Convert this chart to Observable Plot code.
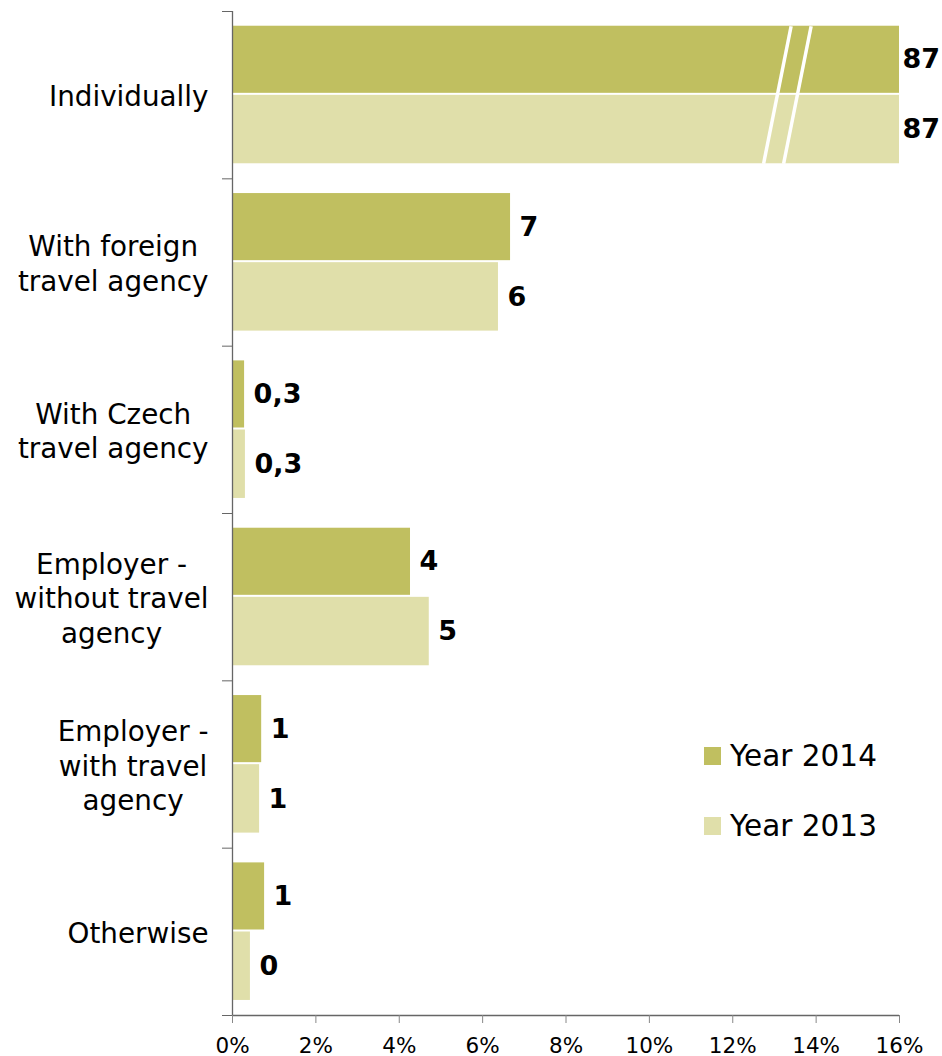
<!DOCTYPE html>
<html>
<head>
<meta charset="utf-8">
<script src="https://cdn.jsdelivr.net/npm/d3@7"></script>
<script src="https://cdn.jsdelivr.net/npm/@observablehq/plot@0.6"></script>
<style>
  html, body { margin: 0; padding: 0; background: #fff; }
  #wrap { position: relative; width: 942px; height: 1056px; font-family: "DejaVu Sans", Verdana, sans-serif; }
  #legend { position: absolute; left: 704px; top: 737px; }
  .li { display: flex; align-items: center; height: 38px; margin-bottom: 32px; font-size: 29.5px; color: #000; }
  .sw { width: 17px; height: 18px; margin-right: 9px; }
</style>
</head>
<body>
<div id="wrap"><div id="legend"></div></div>
<script>
// ---- data ----
const categories = [
  "Individually",
  "With foreign\ntravel agency",
  "With Czech\ntravel agency",
  "Employer -\nwithout travel\nagency",
  "Employer -\nwith travel\nagency",
  "Otherwise"
];
const years = ["Year 2014", "Year 2013"];
const values2014 = [87, 6.67, 0.29, 4.27, 0.70, 0.77];
const values2013 = [87, 6.38, 0.31, 4.72, 0.65, 0.43];
const labels2014 = ["87", "7", "0,3", "4", "1", "1"];
const labels2013 = ["87", "6", "0,3", "5", "1", "0"];
const xTicks = [0, 2, 4, 6, 8, 10, 12, 14, 16];
const colors = ["#c0bf60", "#e0dfaa"];

// ---- layout constants ----
const xMax = 16;
const slot = { "Year 2014": [0.088, 0.489], "Year 2013": [0.501, 0.91] };
const breakX = [13.4, 13.88];   // top x of the two break strokes (axis units)
const breakSlant = 0.66;        // leftward shift over the band
const font = "DejaVu Sans";
const fs = 27.8;

const rows = [];
categories.forEach((c, i) => {
  rows.push({cat: c, i, year: years[0], value: values2014[i], label: labels2014[i]});
  rows.push({cat: c, i, year: years[1], value: values2013[i], label: labels2013[i]});
});
const yc = d => d.i + (slot[d.year][0] + slot[d.year][1]) / 2;

// measure label widths to center lines of each category label block
const ctx = document.createElement("canvas").getContext("2d");
ctx.font = `${fs}px "${font}"`;
const blockW = categories.map(c => d3.max(c.split("\n"), s => ctx.measureText(s).width));

const breakIdx = categories.map((c, i) => i).filter(i => values2014[i] > xMax);
const breaks = breakIdx.flatMap(i => breakX.map(x => ({i, x})));

const labelMarks = categories.map((c, i) =>
  Plot.text([c], {
    frameAnchor: "left", y: () => i + 0.5, text: d => d,
    textAnchor: "middle", dx: -24 - blockW[i] / 2,
    fontSize: fs, lineHeight: 1.25, fill: "#000"
  })
);

const chart = Plot.plot({
  width: 942,
  height: 1056,
  marginLeft: 232,
  marginRight: 43,
  marginTop: 11,
  marginBottom: 41,
  style: { fontFamily: font, background: "transparent", overflow: "visible" },
  x: { domain: [0, xMax], clamp: true },
  y: { domain: [0, categories.length], reverse: true },
  color: { domain: years, range: colors },
  marks: [
    Plot.rectX(rows, {
      x1: 0, x2: "value",
      y1: d => d.i + slot[d.year][0], y2: d => d.i + slot[d.year][1],
      fill: "year"
    }),
    Plot.link(breaks, {
      x1: d => d.x, y1: d => d.i + slot[years[0]][0],
      x2: d => d.x - breakSlant, y2: d => d.i + slot[years[1]][1],
      stroke: "#fff", strokeWidth: 3.5
    }),
    Plot.text(rows.filter(d => d.value <= xMax), {
      x: "value", y: yc, text: "label", textAnchor: "start", dx: 9,
      fontSize: 27, fontWeight: "bold", fill: "#000"
    }),
    Plot.text(rows.filter(d => d.value > xMax), {
      x: "value", y: yc, text: "label", textAnchor: "start", dx: 3,
      fontSize: 27, fontWeight: "bold", fill: "#000"
    }),
    Plot.ruleX([0], { stroke: "#666", strokeWidth: 1.3 }),
    Plot.ruleY([categories.length], { stroke: "#666", strokeWidth: 1.3 }),
    Plot.axisY({ ticks: d3.range(categories.length + 1), tickFormat: () => "", tickSize: 10, stroke: "#666", label: null }),
    Plot.axisX({ ticks: xTicks, tickFormat: () => "", tickSize: 8, stroke: "#888", label: null }),
    Plot.text(xTicks, {
      x: d => d, frameAnchor: "bottom", lineAnchor: "top", dy: 22,
      text: d => d + "%", fontSize: 21.5, fill: "#000"
    }),
    ...labelMarks
  ]
});

const wrap = document.getElementById("wrap");
wrap.insertBefore(chart, wrap.firstChild);

const legend = document.getElementById("legend");
years.forEach((y, k) => {
  const item = document.createElement("div");
  item.className = "li";
  item.innerHTML = `<div class="sw" style="background:${colors[k]}"></div><span>${y}</span>`;
  legend.appendChild(item);
});
</script>
</body>
</html>
